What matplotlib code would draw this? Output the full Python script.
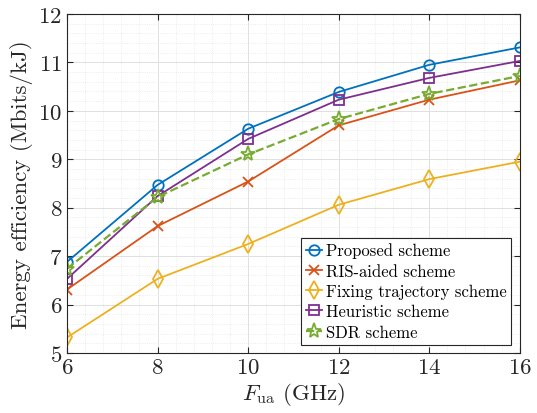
import matplotlib
matplotlib.use("Agg")
import matplotlib.pyplot as plt
import numpy as np

plt.rcParams['font.family'] = 'serif'
plt.rcParams['font.serif'] = ['cmr10', 'DejaVu Serif']
plt.rcParams['mathtext.fontset'] = 'cm'
plt.rcParams['axes.formatter.use_mathtext'] = True

f_ua = [6, 8, 10, 12, 14, 16]
propuesto = [6.88, 8.47, 9.63, 10.39, 10.95, 11.31]
ris = [6.31, 7.62, 8.54, 9.70, 10.23, 10.63]
fija = [5.32, 6.53, 7.25, 8.06, 8.59, 8.95]
heuristico = [6.53, 8.24, 9.42, 10.23, 10.68, 11.03]
sdr = [6.74, 8.22, 9.10, 9.83, 10.35, 10.72]

fig = plt.figure(figsize=(5.37, 4.14), dpi=100)
ax = fig.add_axes([0.1248, 0.145, 0.8432, 0.8188])

ax.plot(f_ua, propuesto, '-o', color='#0072BD', lw=1.3, ms=7.5, mfc='none', mew=1.3, label='Proposed scheme')
ax.plot(f_ua, ris, '-x', color='#D95319', lw=1.3, ms=6.5, mew=1.3, label='RIS-aided scheme')
ax.plot(f_ua, fija, '-d', color='#EDB120', lw=1.3, ms=9, mfc='none', mew=1.3, label='Fixing trajectory scheme')
ax.plot(f_ua, heuristico, '-s', color='#7E2F8E', lw=1.3, ms=6.5, mfc='none', mew=1.3, label='Heuristic scheme')
ax.plot(f_ua, sdr, '--*', color='#77AC30', lw=1.6, ms=11, mfc='none', mew=1.3, label='SDR scheme')

ax.set_xlim(6, 16)
ax.set_ylim(5, 12)
ax.set_xticks(np.arange(6, 17, 2))
ax.set_yticks(np.arange(5, 13, 1))
ax.set_xticks(np.arange(6, 16.01, 0.4), minor=True)
ax.set_yticks(np.arange(5, 12.01, 0.2), minor=True)
ax.grid(True, which='major', color='#e0e0e0', lw=0.7)
ax.grid(True, which='minor', color='#e6e6e6', lw=0.6, ls=':')
ax.set_axisbelow(True)
ax.tick_params(which='major', direction='in', length=4, labelsize=16.5, colors='#262626', top=True, right=True)
ax.tick_params(which='minor', length=0)
for s in ax.spines.values():
    s.set_color('#262626')
    s.set_linewidth(0.8)

ax.set_xlabel(r'$F_{\rm ua}$ (GHz)', fontsize=16.5, color='#262626', labelpad=2)
ax.set_ylabel('Energy efficiency (Mbits/kJ)', fontsize=16.5, color='#262626', labelpad=4)

leg = ax.legend(loc='lower right', fontsize=12, handlelength=1.0, handletextpad=0.2,
                borderpad=0.3, labelspacing=0.3, fancybox=False, framealpha=1,
                edgecolor='#262626', borderaxespad=0.5)
leg.get_frame().set_linewidth(0.8)

fig.savefig('out.png', dpi=100)
